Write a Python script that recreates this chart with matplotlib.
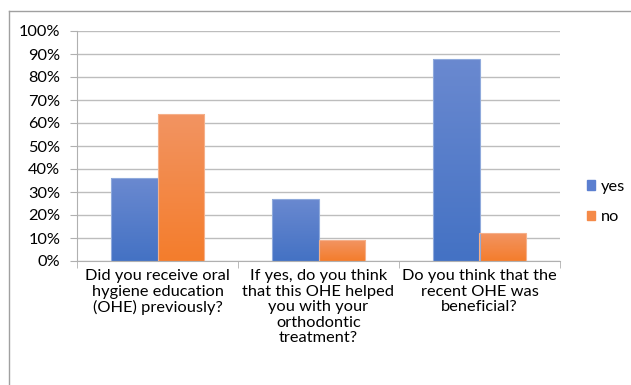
import numpy as np
import matplotlib
matplotlib.use('Agg')
import matplotlib.pyplot as plt
from matplotlib.patches import Patch
from matplotlib.lines import Line2D
from matplotlib.colors import LinearSegmentedColormap

categories = ['Did you receive oral\nhygiene education\n(OHE) previously?',
              'If yes, do you think\nthat this OHE helped\nyou with your\northodontic\ntreatment?',
              'Do you think that the\nrecent OHE was\nbeneficial?']
yes = [0.36, 0.27, 0.88]
no = [0.64, 0.09, 0.12]
series = ['yes', 'no']

plt.rcParams['font.family'] = ['Lato', 'DejaVu Sans']
plt.rcParams['font.size'] = 11.8

fig = plt.figure(figsize=(6.31, 3.85), dpi=100)
ax = fig.add_axes([77/631, 1-261/385, (560-77)/631, 230/385])

x = np.arange(len(categories))
w = 0.286
grads = [('#4472c4', '#6a89d0', '#8faadc'), ('#f47d2c', '#f29462', '#f5b08a')]
for vals, off, (c0, c1, ec) in zip([yes, no], [-w/2, w/2], grads):
    bars = ax.bar(x + off, vals, w, color='none', edgecolor=ec, linewidth=0.8, zorder=3)
    cmap = LinearSegmentedColormap.from_list('g', [c0, c1])
    for b in bars:
        x0, y0 = b.get_x(), b.get_y()
        im = ax.imshow(np.linspace(0, 1, 100).reshape(-1, 1), cmap=cmap, origin='lower',
                       extent=[x0, x0 + b.get_width(), y0, y0 + b.get_height()],
                       aspect='auto', zorder=2)
        im.set_clip_path(b)

ax.set_xlim(-0.5, 2.5)
ax.set_ylim(0, 1)
ax.set_yticks(np.arange(0, 1.01, 0.1))
ax.set_yticklabels([f'{int(round(v*100))}%' for v in np.arange(0, 1.01, 0.1)])
ax.yaxis.grid(True, color='#bdbdbd', linewidth=1, zorder=0)
ax.tick_params(axis='y', length=5, color='#b0b0b0', pad=7)
ax.set_xticks(x)
ax.set_xticklabels(categories, linespacing=1.13)
ax.set_xticks([-0.5, 0.5, 1.5, 2.5], minor=True)
ax.tick_params(axis='x', which='major', length=0, pad=6)
ax.tick_params(axis='x', which='minor', length=5, color='#b0b0b0')
for s in ['top', 'right']:
    ax.spines[s].set_visible(False)
for s in ['left', 'bottom']:
    ax.spines[s].set_color('#b0b0b0')

handles = [Patch(color='#5b7fd0'), Patch(color='#f58a48')]
fig.legend(handles, series, loc='center left', bbox_to_anchor=(587/631, 1-202/385),
           frameon=False, borderpad=0, borderaxespad=0,
           handlelength=0.5, handleheight=0.5, handletextpad=0.35,
           labelspacing=1.0, fontsize=11.8)

# outer chart frame (only top and left edges visible)
fig.add_artist(Line2D([9/631, 9/631], [0, 1-11/385], color='#a0a0a0', linewidth=1))
fig.add_artist(Line2D([9/631, 1], [1-11/385, 1-11/385], color='#a0a0a0', linewidth=1))

fig.savefig('out.png', dpi=100)
